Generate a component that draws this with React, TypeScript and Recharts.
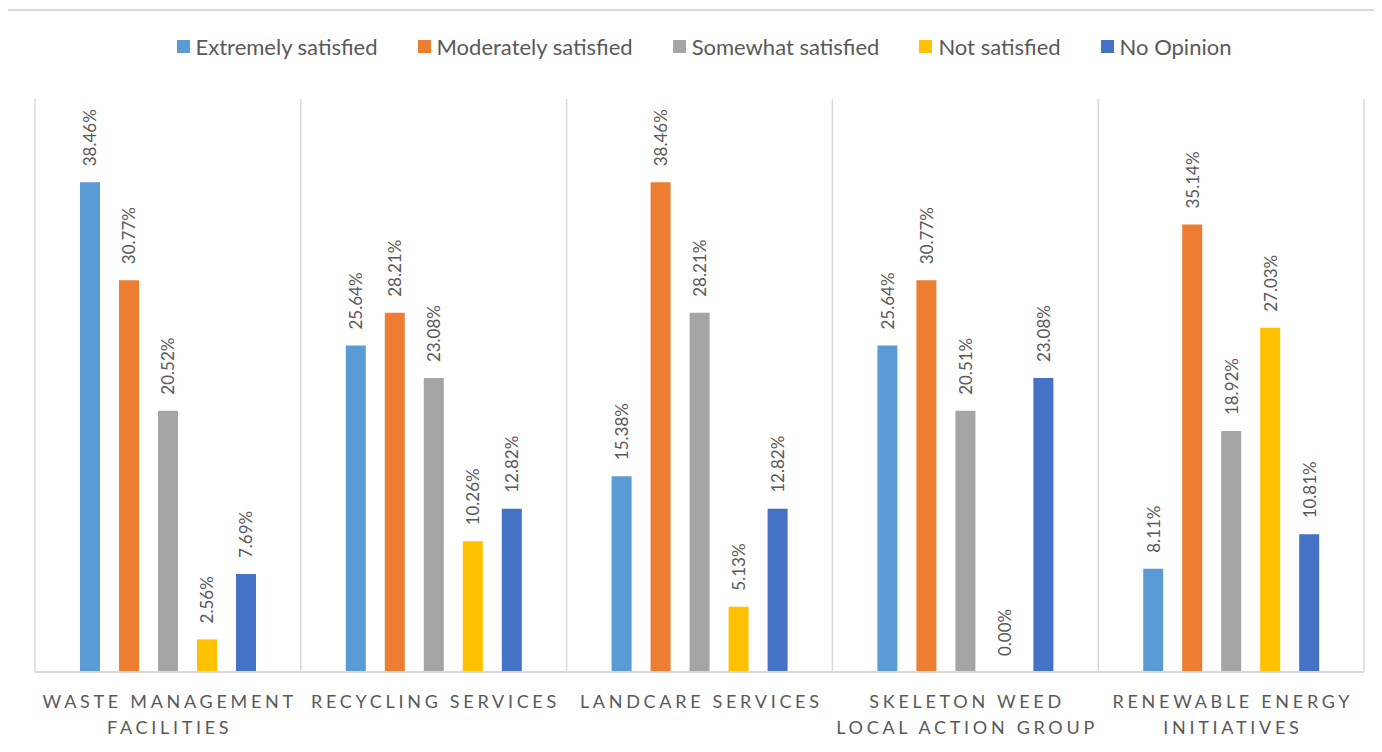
import { Bar, BarChart, CartesianGrid, LabelList, Legend, XAxis, YAxis } from "recharts";

const categories = [
    "WASTE MANAGEMENT\nFACILITIES",
    "RECYCLING SERVICES",
    "LANDCARE SERVICES",
    "SKELETON WEED\nLOCAL ACTION GROUP",
    "RENEWABLE ENERGY\nINITIATIVES",
];

const extremelySatisfied = [38.46, 25.64, 15.38, 25.64, 8.11];
const moderatelySatisfied = [30.77, 28.21, 38.46, 30.77, 35.14];
const somewhatSatisfied = [20.52, 23.08, 28.21, 20.51, 18.92];
const notSatisfied = [2.56, 10.26, 5.13, 0.0, 27.03];
const noOpinion = [7.69, 12.82, 12.82, 23.08, 10.81];

const series = [
    { key: "extremely", name: "Extremely satisfied", color: "#5b9bd5", values: extremelySatisfied },
    { key: "moderately", name: "Moderately satisfied", color: "#ed7d31", values: moderatelySatisfied },
    { key: "somewhat", name: "Somewhat satisfied", color: "#a5a5a5", values: somewhatSatisfied },
    { key: "notSatisfied", name: "Not satisfied", color: "#ffc000", values: notSatisfied },
    { key: "noOpinion", name: "No Opinion", color: "#4472c4", values: noOpinion },
];

const chartData = categories.map((name, i) => {
    const row: Record<string, string | number> = { name };
    series.forEach((s) => {
        row[s.key] = s.values[i];
    });
    return row;
});

const FONT = "Lato, 'Noto Sans', sans-serif";
const TEXT = "#595959";
const GRID = "#d9d9d9";

function ValueLabel(props: any) {
    const { x, y, width, value } = props;
    const cx = Number(x) + Number(width) / 2;
    const ty = Number(y) - 16;
    return (
        <text
            x={cx}
            y={ty}
            transform={`rotate(-90 ${cx} ${ty})`}
            textAnchor="start"
            dominantBaseline="central"
            fill={TEXT}
            fontSize={17}
            fontFamily={FONT}
        >
            {Number(value).toFixed(2)}%
        </text>
    );
}

function CategoryTick(props: any) {
    const { x, y, payload } = props;
    const lines = String(payload.value).split("\n");
    return (
        <text
            x={x}
            y={y}
            textAnchor="middle"
            fill={TEXT}
            fontSize={18}
            fontFamily={FONT}
            letterSpacing={3.7}
        >
            {lines.map((line, i) => (
                <tspan key={i} x={x + 1.8} dy={i === 0 ? 28 : 26}>
                    {line}
                </tspan>
            ))}
        </text>
    );
}

function LegendContent() {
    return (
        <div
            style={{
                display: "flex",
                justifyContent: "center",
                alignItems: "center",
                height: 30,
                paddingLeft: 26,
                fontFamily: FONT,
                fontSize: 22,
                color: TEXT,
            }}
        >
            {series.map((s) => (
                <div
                    key={s.key}
                    style={{ display: "flex", alignItems: "center", margin: "0 20px" }}
                >
                    <span
                        style={{
                            width: 13,
                            height: 13,
                            background: s.color,
                            marginRight: 6,
                            display: "inline-block",
                        }}
                    />
                    {s.name}
                </div>
            ))}
        </div>
    );
}

export default function App() {
    return (
        <div
            style={{
                margin: -8,
                width: 1382,
                height: 752,
                position: "relative",
                overflow: "hidden",
                background: "#ffffff",
            }}
        >
            <div
                style={{
                    position: "absolute",
                    left: 6,
                    top: 9,
                    width: 1500,
                    height: 800,
                    border: `2px solid ${GRID}`,
                }}
            />
            <div style={{ position: "absolute", left: 0, top: 0 }}>
                <BarChart
                    width={1382}
                    height={752}
                    data={chartData}
                    margin={{ top: 69, right: 18, bottom: 0, left: 35 }}
                    barSize={20}
                    barGap={19}
                >
                    <CartesianGrid
                        horizontal={false}
                        stroke={GRID}
                        strokeWidth={1.5}
                        verticalCoordinatesGenerator={({ offset }: any) =>
                            categories
                                .concat([""])
                                .map((_, i) => offset.left + (offset.width * i) / categories.length)
                        }
                    />
                    <XAxis
                        dataKey="name"
                        interval={0}
                        height={80}
                        tickLine={false}
                        axisLine={{ stroke: GRID, strokeWidth: 2 }}
                        tick={<CategoryTick />}
                    />
                    <YAxis hide domain={[0, 45]} />
                    <Legend
                        verticalAlign="top"
                        content={<LegendContent />}
                        wrapperStyle={{ top: 31, left: 0, width: 1382 }}
                    />
                    {series.map((s) => (
                        <Bar
                            key={s.key}
                            dataKey={s.key}
                            name={s.name}
                            fill={s.color}
                            minPointSize={0.01}
                            isAnimationActive={false}
                        >
                            <LabelList dataKey={s.key} content={<ValueLabel />} />
                        </Bar>
                    ))}
                </BarChart>
            </div>
        </div>
    );
}
